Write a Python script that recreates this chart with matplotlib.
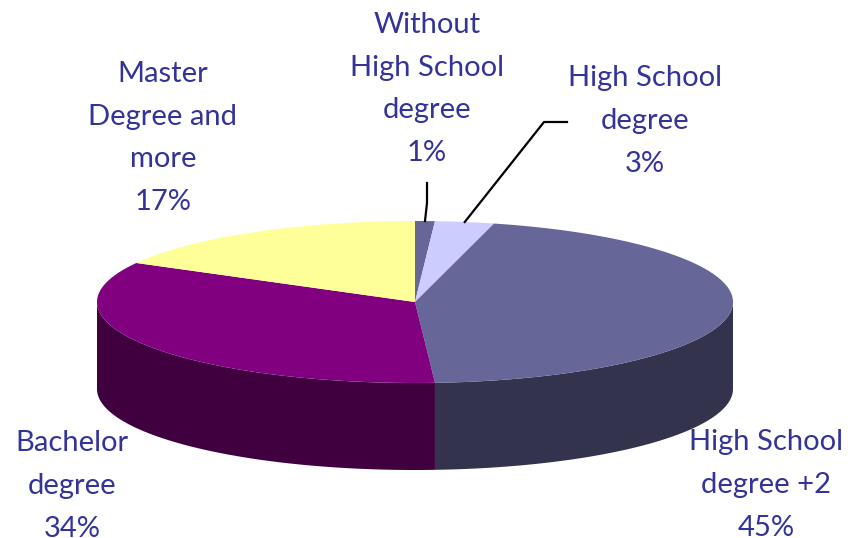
import matplotlib.pyplot as plt
import numpy as np
from matplotlib.patches import Polygon

labels = ["Without\nHigh School\ndegree\n1%",
          "High School\ndegree\n3%",
          "High School\ndegree +2\n45%",
          "Bachelor\ndegree\n34%",
          "Master\nDegree and\nmore\n17%"]
shares = [1, 3, 45, 34, 17]
top_colors = ["#666699", "#CCCCFF", "#666699", "#800080", "#FFFF99"]
side_colors = ["#33334D", "#666680", "#33334D", "#400040", "#80804D"]

# label anchor points (pixels)
label_pos = [(427, 89), (645, 121), (766, 485), (72, 486), (163, 138)]

plt.rcParams['font.family'] = ['Lato', 'DejaVu Sans']

fig = plt.figure(figsize=(8.48, 5.38), dpi=100)
ax = fig.add_axes([0, 0, 1, 1])
ax.set_xlim(0, 848)
ax.set_ylim(538, 0)
ax.axis('off')

cx, cy = 415, 302
a, b = 318, 81
depth = 87


def rim(theta, dy=0):
    return np.column_stack([cx + a * np.sin(theta), cy - b * np.cos(theta) + dy])


frac = np.array(shares, dtype=float) / sum(shares)
edges = np.concatenate([[0], np.cumsum(frac)]) * 2 * np.pi

# side walls on the front half of the disc
for i in range(len(shares)):
    t0 = max(edges[i], np.pi / 2)
    t1 = min(edges[i + 1], 3 * np.pi / 2)
    if t1 <= t0:
        continue
    th = np.linspace(t0, t1, 120)
    pts = np.vstack([rim(th), rim(th[::-1], depth)])
    ax.add_patch(Polygon(pts, closed=True, facecolor=side_colors[i],
                         edgecolor='none'))

# top face
for i in range(len(shares)):
    th = np.linspace(edges[i], edges[i + 1], 200)
    pts = np.vstack([[cx, cy], rim(th)])
    ax.add_patch(Polygon(pts, closed=True, facecolor=top_colors[i],
                         edgecolor='none'))

for text, (x, y) in zip(labels, label_pos):
    ax.text(x, y, text, ha='center', va='center', fontsize=21,
            color='#333399', linespacing=1.8)

# leader lines for the two thin slices
mid0 = rim(np.array([(edges[0] + edges[1]) / 2]))[0]
ax.plot([427, 427, mid0[0]], [183, 203, mid0[1]], color='black', lw=1.6)
mid1 = rim(np.array([(edges[1] + edges[2]) / 2]))[0]
ax.plot([567, 544, mid1[0]], [122, 122, mid1[1]], color='black', lw=1.6)

fig.savefig("out.png", dpi=100)
